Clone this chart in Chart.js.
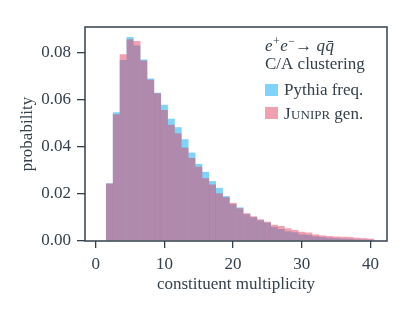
<!DOCTYPE html>
<html>
<head>
<meta charset="utf-8">
<script src="https://cdn.jsdelivr.net/npm/chart.js@4.4.1/dist/chart.umd.min.js"></script>
<style>
  html, body { margin: 0; padding: 0; background: #fff; }
  canvas { display: block; }
</style>
</head>
<body>
<canvas id="histChart" width="415" height="312"></canvas>
<script>
// bins of constituent multiplicity (bin centres)
const multiplicity = [2, 3, 4, 5, 6, 7, 8, 9, 10, 11, 12, 13, 14, 15, 16, 17, 18, 19, 20, 21,
  22, 23, 24, 25, 26, 27, 28, 29, 30, 31, 32, 33, 34, 35, 36, 37, 38, 39, 40];

const pythiaFreq = [0.0245, 0.0548, 0.0770, 0.0867, 0.0831, 0.0772, 0.0691, 0.0630, 0.0579, 0.0520,
  0.0484, 0.0433, 0.0376, 0.0328, 0.0294, 0.0255, 0.0226, 0.0191, 0.0157, 0.0143,
  0.0114, 0.0101, 0.0088, 0.0078, 0.0060, 0.0051, 0.0041, 0.0037, 0.0028, 0.0026,
  0.0020, 0.0017, 0.0014, 0.0012, 0.0010, 0.0009, 0.0007, 0.0006, 0.0005];

const juniprGen = [0.0245, 0.0539, 0.0794, 0.0858, 0.0850, 0.0768, 0.0686, 0.0628, 0.0557, 0.0494,
  0.0458, 0.0397, 0.0353, 0.0316, 0.0267, 0.0240, 0.0203, 0.0186, 0.0162, 0.0139,
  0.0118, 0.0105, 0.0092, 0.0082, 0.0069, 0.0064, 0.0054, 0.0047, 0.0039, 0.0036,
  0.0028, 0.0024, 0.0021, 0.0019, 0.0018, 0.0017, 0.0014, 0.0012, 0.0010];

const xTicks = [0, 10, 20, 30, 40];
const yTicks = [0, 0.02, 0.04, 0.06, 0.08];

const ink = "#34404b";
const serif = "'Liberation Serif', 'Times New Roman', serif";
const blueFill = "rgba(0, 169, 245, 0.5)";
const pinkFill = "rgba(225, 65, 95, 0.5)";

// box round the plot
const frame = {
  id: "frame",
  afterDraw(chart) {
    const { ctx, chartArea } = chart;
    ctx.save();
    ctx.strokeStyle = ink;
    ctx.lineWidth = 1.5;
    ctx.strokeRect(chartArea.left, chartArea.top,
      chartArea.right - chartArea.left, chartArea.bottom - chartArea.top);
    ctx.restore();
  }
};

function run(ctx, text, font, x, y) {
  ctx.font = font;
  ctx.fillText(text, x, y);
  return x + ctx.measureText(text).width;
}

// legend with the process label
const legendBox = {
  id: "legendBox",
  afterDraw(chart) {
    const { ctx, chartArea } = chart;
    const x0 = chartArea.right - 122;
    const top = chartArea.top;
    ctx.save();
    ctx.fillStyle = ink;
    ctx.textBaseline = "alphabetic";

    let x = x0;
    let y = top + 24;
    x = run(ctx, "e", "italic 17px " + serif, x, y);
    x = run(ctx, "+", "12px " + serif, x + 0.5, y - 6);
    x = run(ctx, "e", "italic 17px " + serif, x + 0.5, y);
    x = run(ctx, "\u2212", "12px " + serif, x + 0.5, y - 6);
    x = run(ctx, "\u2192 ", "17px " + serif, x, y);
    x = run(ctx, "q", "italic 17px " + serif, x, y);
    run(ctx, "q\u0304", "italic 17px " + serif, x + 0.5, y);

    run(ctx, "C/A clustering", "17px " + serif, x0, top + 42);

    ctx.fillStyle = "rgb(128, 212, 250)";
    ctx.fillRect(x0, top + 57, 13, 12);
    ctx.fillStyle = "rgb(240, 160, 175)";
    ctx.fillRect(x0, top + 80, 13, 12);

    ctx.fillStyle = ink;
    run(ctx, "Pythia freq.", "17px " + serif, x0 + 19, top + 68);
    x = run(ctx, "J", "17px " + serif, x0 + 19, top + 92);
    x = run(ctx, "UNIPR", "13px " + serif, x + 0.5, top + 92);
    run(ctx, " gen.", "17px " + serif, x, top + 92);
    ctx.restore();
  }
};

const ctx = document.getElementById("histChart").getContext("2d");

new Chart(ctx, {
  type: "bar",
  data: {
    datasets: [
      {
        label: "Pythia freq.",
        data: multiplicity.map((m, i) => ({ x: m, y: pythiaFreq[i] })),
        backgroundColor: blueFill,
        borderWidth: 0,
        order: 1,
      },
      {
        label: "JUNIPR gen.",
        data: multiplicity.map((m, i) => ({ x: m, y: juniprGen[i] })),
        backgroundColor: pinkFill,
        borderWidth: 0,
        order: 0,
      },
    ],
  },
  options: {
    responsive: false,
    animation: false,
    grouped: false,
    barPercentage: 1.02,
    categoryPercentage: 1,
    layout: {
      padding: { left: 0, top: 27, right: 28, bottom: 0 },
    },
    plugins: {
      legend: { display: false },
      tooltip: { enabled: false },
    },
    scales: {
      x: {
        type: "linear",
        offset: false,
        min: -1.56,
        max: 42.4,
        afterBuildTicks: (scale) => { scale.ticks = xTicks.map(v => ({ value: v })); },
        afterFit: (scale) => { scale.height = 71; },
        grid: {
          offset: false,
          drawOnChartArea: false,
          drawTicks: true,
          tickLength: 7,
          tickColor: ink,
          lineWidth: 1.3,
        },
        border: { display: false },
        ticks: {
          color: ink,
          padding: 6,
          maxRotation: 0,
          font: { family: serif, size: 17 },
        },
        title: {
          display: true,
          text: "constituent multiplicity",
          color: ink,
          font: { family: serif, size: 17 },
          padding: { top: 0, bottom: 17 },
        },
      },
      y: {
        min: 0,
        max: 0.091,
        afterBuildTicks: (scale) => { scale.ticks = yTicks.map(v => ({ value: v })); },
        afterFit: (scale) => { scale.width = 85; },
        grid: {
          drawOnChartArea: false,
          drawTicks: true,
          tickLength: 8,
          tickColor: ink,
          lineWidth: 1.3,
        },
        border: { display: false },
        ticks: {
          color: ink,
          padding: 6,
          font: { family: serif, size: 17 },
          callback: (v) => v.toFixed(2),
        },
        title: {
          display: true,
          text: "probability",
          color: ink,
          font: { family: serif, size: 17 },
          padding: { top: 17, bottom: 0 },
        },
      },
    },
  },
  plugins: [frame, legendBox],
});
</script>
</body>
</html>
